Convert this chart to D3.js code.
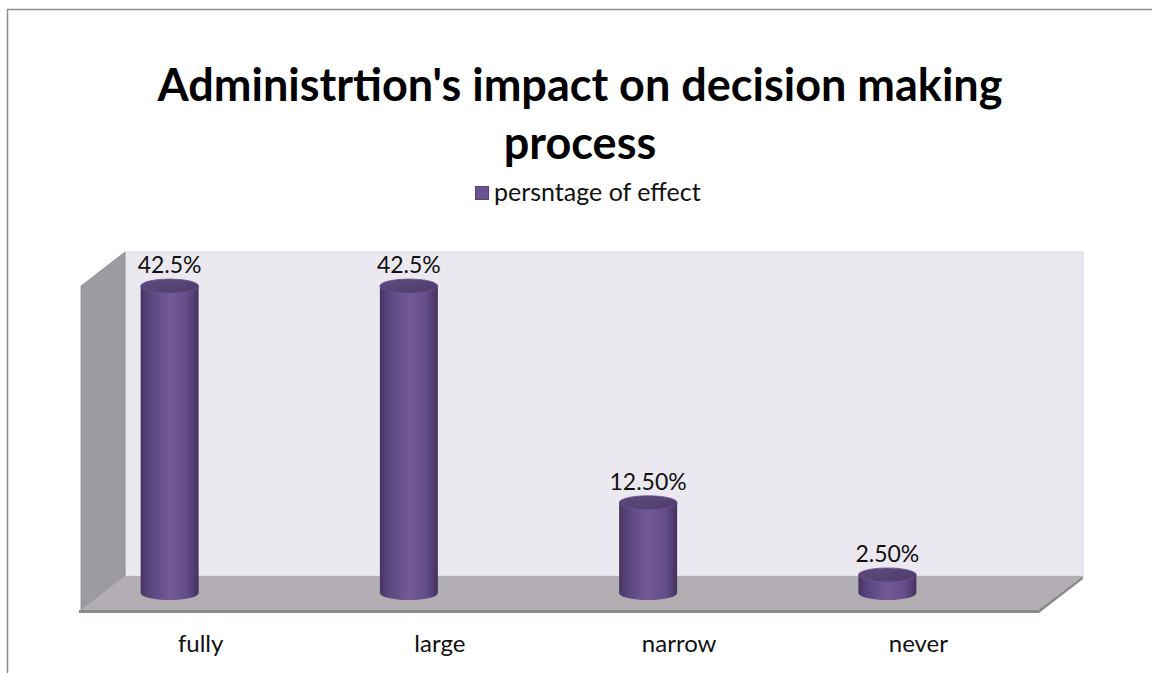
<!DOCTYPE html>
<html>
<head>
<meta charset="utf-8">
<script src="https://cdnjs.cloudflare.com/ajax/libs/d3/7.8.5/d3.min.js"></script>
<style>
  html, body { margin: 0; padding: 0; background: #fff; }
  svg { display: block; }
</style>
</head>
<body>
<svg id="chart" width="1152" height="673"></svg>
<script>
// Chart data
const categories = ["fully", "large", "narrow", "never"];
const values = [42.5, 42.5, 12.5, 2.5];
const valueLabels = ["42.5%", "42.5%", "12.50%", "2.50%"];
const seriesName = "persntage of effect";
const titleLines = ["Administrtion's impact on decision making", "process"];

const svg = d3.select("#chart");
const font = "Lato, 'Open Sans', sans-serif";

// 3D box geometry (front plane and depth offset)
const front = { left: 81, right: 1038, base: 610 };
const depth = { dx: 44, dy: -34 };
const wallTopFront = 286;

// Scales: categories along the front floor edge, values in the mid-depth plane
const x = d3.scaleBand().domain(categories).range([front.left, front.right]);
const y = d3.scaleLinear().domain([0, 45]).range([593, 268]);
const barShift = -31;           // bar centre relative to its category slot
const rx = 29, ry = 7;

// Outer chart border
svg.append("rect")
  .attr("x", 7.5).attr("y", 9.5)
  .attr("width", 1160).attr("height", 680)
  .attr("fill", "none").attr("stroke", "#8c8c8c").attr("stroke-width", 1.5);

// Gradients
const defs = svg.append("defs");
const body = defs.append("linearGradient").attr("id", "cyl").attr("x1", "0").attr("x2", "1").attr("y1", "0").attr("y2", "0");
[["0%", "#46345f"], ["12%", "#574379"], ["50%", "#745a98"], ["80%", "#654d88"], ["100%", "#43325c"]]
  .forEach(([o, c]) => body.append("stop").attr("offset", o).attr("stop-color", c));
const topG = defs.append("linearGradient").attr("id", "cylTop").attr("x1", "0").attr("x2", "1").attr("y1", "0").attr("y2", "1");
[["0%", "#5f4a7e"], ["100%", "#4f3c6a"]]
  .forEach(([o, c]) => topG.append("stop").attr("offset", o).attr("stop-color", c));

// Back wall
const backTop = wallTopFront + depth.dy;
svg.append("polygon")
  .attr("points", [
    [front.left + depth.dx, backTop], [front.right + depth.dx + 1, backTop],
    [front.right + depth.dx + 1, front.base + depth.dy], [front.left + depth.dx, front.base + depth.dy]
  ].join(" "))
  .attr("fill", "#ebe8f0").attr("stroke", "#d9d6de").attr("stroke-width", 1);

// Left wall
svg.append("polygon")
  .attr("points", [
    [front.left, wallTopFront], [front.left + depth.dx, backTop],
    [front.left + depth.dx, front.base + depth.dy], [front.left, front.base]
  ].join(" "))
  .attr("fill", "#9d9b9f").attr("stroke", "#8e8c90").attr("stroke-width", 0.8);

// Floor with a thin front edge
svg.append("polygon")
  .attr("points", [
    [front.left, front.base], [front.left + depth.dx, front.base + depth.dy],
    [front.right + depth.dx + 1, front.base + depth.dy], [front.right, front.base]
  ].join(" "))
  .attr("fill", "#b3aeb3");
svg.append("polygon")
  .attr("points", [
    [front.left - 2, front.base], [front.right, front.base],
    [front.right + depth.dx + 1, front.base + depth.dy], [front.right + depth.dx + 1, front.base + depth.dy + 3],
    [front.right + 1, front.base + 3], [front.left - 2, front.base + 3]
  ].join(" "))
  .attr("fill", "#8b898c");

// Cylinders
const bars = svg.append("g").selectAll("g")
  .data(categories.map((c, i) => ({ c, v: values[i], label: valueLabels[i] })))
  .join("g");

bars.append("path")
  .attr("d", d => {
    const cx = x(d.c) + x.bandwidth() / 2 + barShift;
    const yt = y(d.v), yb = y(0);
    return `M${cx - rx},${yt} L${cx - rx},${yb} A${rx},${ry} 0 0 0 ${cx + rx},${yb} L${cx + rx},${yt} Z`;
  })
  .attr("fill", "url(#cyl)");

bars.append("ellipse")
  .attr("cx", d => x(d.c) + x.bandwidth() / 2 + barShift)
  .attr("cy", d => y(d.v))
  .attr("rx", rx).attr("ry", ry)
  .attr("fill", "url(#cylTop)")
  .attr("stroke", "#6a5390").attr("stroke-width", 0.8);

// Value labels
bars.append("text")
  .attr("x", d => x(d.c) + x.bandwidth() / 2 + barShift)
  .attr("y", d => y(d.v) - 13)
  .attr("text-anchor", "middle")
  .attr("font-family", font).attr("font-size", 23).attr("fill", "#111")
  .text(d => d.label);

// Category axis labels
svg.append("g").selectAll("text")
  .data(categories)
  .join("text")
  .attr("x", d => x(d) + x.bandwidth() / 2)
  .attr("y", 652)
  .attr("text-anchor", "middle")
  .attr("font-family", font).attr("font-size", 24).attr("fill", "#111")
  .text(d => d);

// Title
svg.append("g").selectAll("text")
  .data(titleLines)
  .join("text")
  .attr("x", 580)
  .attr("y", (d, i) => 101 + i * 58)
  .attr("text-anchor", "middle")
  .attr("font-family", font).attr("font-weight", "bold").attr("font-size", 45).attr("fill", "#000")
  .text(d => d);

// Legend
const legend = svg.append("g");
legend.append("rect")
  .attr("x", 475.5).attr("y", 186.5).attr("width", 13).attr("height", 13)
  .attr("fill", "#6b5290").attr("stroke", "#58427a");
legend.append("text")
  .attr("x", 494).attr("y", 201)
  .attr("font-family", font).attr("font-size", 25).attr("fill", "#111")
  .text(seriesName);
</script>
</body>
</html>
